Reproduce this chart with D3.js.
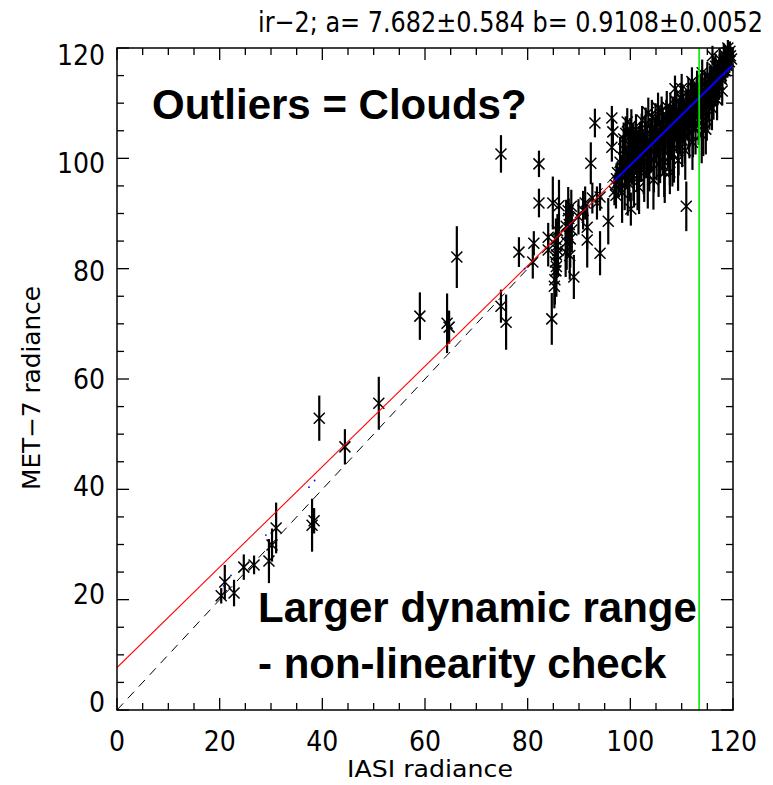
<!DOCTYPE html>
<html><head><meta charset="utf-8">
<script src="https://cdn.jsdelivr.net/npm/d3@7"></script>
<style>body{margin:0;background:#fff}svg{display:block}</style>
</head><body>
<svg id="c" width="773" height="785"></svg>
<script>
// ---------- data ----------
const titleText = "ir\u22122; a= 7.682\u00b10.584  b= 0.9108\u00b10.0052";
const xLabel = "IASI radiance";
const yLabel = "MET\u22127 radiance";
const xTicks = [0, 20, 40, 60, 80, 100, 120];
const yTicks = [0, 20, 40, 60, 80, 100, 120];
const fitA = 7.682, fitB = 0.9108;
const greenX = 113.4;
const noteTop = "Outliers = Clouds?";
const noteBottom1 = "Larger dynamic range";
const noteBottom2 = "- non-linearity check";
// [IASI, MET-7, error]
const lowPoints = [
  [20.3,20.7,1.4],[21.0,23.2,3.1],[22.8,21.2,2.4],[24.7,25.9,2.3],[26.7,26.3,1.7],
  [29.6,27.0,4.0],[30.2,29.9,3.0],[31.0,33.0,4.6],[38.0,33.5,4.8],[38.4,34.3,2.3],
  [39.4,52.9,4.1],[44.4,47.7,3.2],[51.0,55.6,4.8],[59.0,71.4,4.3],[66.2,82.1,5.6],
  [64.3,70.1,5.4],[64.7,69.4,3.0],[74.8,100.8,3.4],[74.8,73.2,3.0],[75.8,70.3,5.0]
];
const midPoints = [
  [78.3,83.0,2.7],[81.2,84.6,2.2],[81.0,81.2,3.0],[82.2,99.0,2.4],[82.2,91.9,2.6],
  [84.0,85.7,2.6],[84.0,83.4,3.0],[84.7,70.9,4.7],[84.9,91.9,4.8],[86.1,91.4,4.7],
  [85.3,78.0,4.5],[85.5,79.6,4.0],[85.4,81.2,5.0],[85.6,82.5,3.5],[85.7,84.1,4.2],
  [85.5,85.3,3.8],[85.8,86.9,3.0],[85.6,80.4,5.5],[85.9,83.3,4.6],[85.2,76.8,4.0],
  [87.4,83.0,4.5],[87.6,84.8,5.0],[87.8,86.2,4.0],[87.5,87.7,4.8],[88.0,89.1,3.6],
  [87.9,90.5,4.3],[88.3,85.4,5.2],[88.1,88.0,3.9],[88.5,91.3,3.0],[88.2,82.4,4.4],
  [88.6,87.0,4.0],[89.0,78.5,4.0],[89.9,89.4,3.2],[90.8,90.6,3.5],[91.2,91.9,3.0],
  [91.6,85.2,5.0],[91.6,87.5,4.0],[92.3,99.1,3.8],[92.6,92.8,2.8],[93.1,106.4,2.6],
  [93.5,91.9,3.0],[94.1,93.0,2.5],[94.1,82.8,4.0],[95.7,88.6,4.2],[96.4,107.3,2.2],
  [96.6,104.8,2.4],[96.4,102.0,2.6],[96.9,94.0,2.5],[97.1,95.2,2.2],[97.3,96.3,2.8],
  [97.5,97.4,2.0],[97.7,95.8,2.6],[97.2,93.3,2.4],[100.1,90.8,3.0],[110.9,91.3,4.5],
  [107.7,97.5,4.0],[108.7,112.6,2.4],[117.9,112.2,2.6],[114.7,105.3,4.6]
];
const clusterPoints = [
  [98.2,96.8,3.5],[98.5,100.2,4.0],[98.7,103.5,3.0],[98.9,95.1,4.5],[99.2,98.4,3.8],
  [99.4,106.6,2.5],[99.6,101.3,4.2],[99.8,97.2,5.0],[100.0,104.1,3.2],[100.3,99.6,4.4],
  [100.5,102.8,3.6],[100.7,96.3,5.2],[100.9,100.9,3.9],[101.1,105.2,2.8],[101.3,98.5,4.6],
  [101.5,101.9,3.3],[101.7,94.7,4.8],[101.9,103.6,3.0],[102.1,99.8,4.1],[102.3,106.9,2.6],
  [102.5,101.2,3.7],[102.7,97.4,5.3],[102.9,104.0,3.4],[103.1,100.6,4.2],[103.3,102.7,3.1],
  [103.5,108.3,2.7],[103.7,98.9,4.9],[103.9,103.8,3.5],[104.1,101.4,4.0],[104.3,105.6,3.0],
  [104.5,96.1,5.4],[104.7,102.9,3.8],[104.9,107.1,2.9],[105.1,100.5,4.5],[105.3,104.2,3.3],
  [105.5,99.0,6.0],[105.7,106.3,3.1],[105.9,103.0,4.0],[106.1,108.7,2.5],[106.3,101.6,4.7],
  [106.5,105.0,3.4],[106.7,97.5,5.6],[106.9,104.3,3.6],[107.1,109.4,2.8],[107.3,102.5,4.3],
  [107.5,106.6,3.2],[107.7,100.2,5.1],[107.9,105.5,3.7],[108.1,103.9,4.1],[108.3,108.2,3.0],
  [108.5,101.8,6.2],[108.7,106.7,3.4],[108.9,110.3,2.6],[109.1,104.8,3.9],[109.3,99.6,5.5],
  [109.5,107.4,3.2],[109.7,105.1,4.4],[109.9,111.0,2.7],[110.1,103.3,4.9],[110.3,108.0,3.5],
  [110.5,106.2,4.0],[110.7,101.4,5.3],[110.9,109.5,3.1],[111.1,107.0,3.8],[111.3,112.1,2.5],
  [111.5,104.6,4.6],[111.7,109.0,3.3],[111.9,106.8,4.2],[112.1,102.9,5.0],[112.3,110.7,2.9],
  [112.5,108.3,3.6],[112.7,105.4,4.7],[112.9,111.5,2.8],[113.1,109.2,3.4],[113.3,106.9,4.5],
  [113.5,112.6,2.6],[113.7,110.4,3.2],[113.9,104.3,5.2],[114.1,111.3,3.0],[114.3,108.7,3.9],
  [114.5,113.4,2.4],[114.7,110.9,3.3],[114.9,107.6,4.4],[115.1,112.8,2.7],[115.3,110.2,3.6],
  [115.5,114.5,2.3],[115.7,111.9,3.1],[115.9,109.1,4.0],[116.1,113.7,2.5],[116.3,116.2,2.0],
  [116.5,112.4,3.0],[116.7,114.8,2.4],[116.9,110.6,3.7],[117.1,115.6,2.2],[117.3,113.5,2.9],
  [117.5,117.1,2.0],[117.7,115.0,2.5],[117.9,116.0,3.0],[118.1,116.4,2.1],[118.3,117.8,1.8],
  [118.5,115.9,2.4],[118.7,118.3,1.8],[118.9,116.8,2.2],[119.1,119.0,1.6],[119.3,117.5,2.0],
  [119.5,118.6,1.7]
];
const clusterPoints2 = [
  [98.0,99.3,4.6],[98.4,93.8,5.5],[98.8,101.6,3.9],[99.1,104.5,3.1],[99.5,95.6,6.0],
  [99.9,100.4,4.8],[100.2,106.0,2.9],[100.6,98.1,5.8],[101.0,103.2,3.6],[101.4,96.9,6.3],
  [101.8,100.7,4.5],[102.2,104.8,3.3],[102.6,99.2,5.7],[103.0,106.2,3.0],[103.4,97.0,6.1],
  [103.8,101.7,4.4],[104.2,107.4,3.2],[104.6,99.7,5.9],[105.0,103.6,4.2],[105.4,109.1,2.8],
  [105.8,101.1,5.6],[106.2,105.9,3.7],[106.6,99.4,6.4],[107.0,107.3,3.3],[107.4,103.8,4.9],
  [107.8,108.9,3.0],[108.2,100.9,6.0],[108.6,105.6,4.1],[109.0,108.6,3.4],[109.4,102.6,5.7],
  [109.8,106.9,4.0],[110.2,110.5,2.9],[110.6,104.2,5.2],[111.0,108.8,3.6],[111.4,106.0,4.8],
  [111.8,111.2,2.8],[112.2,105.6,5.4],[112.6,109.8,3.5],[113.0,113.3,2.6],[113.4,108.0,4.6],
  [113.8,111.8,3.2],[114.2,106.0,5.6],[114.6,112.2,3.0],[115.0,115.1,2.4],[115.4,109.6,4.4],
  [115.8,113.9,2.9],[116.2,111.0,4.0],[116.6,116.7,2.2],[117.0,113.0,3.4],[117.4,118.0,2.0],
  [117.8,114.3,3.0],[118.2,118.9,1.9],[118.6,117.0,2.3],[119.0,120.0,1.5],[119.4,119.4,1.8],
  [119.7,118.0,1.9],[116.0,118.6,1.8],[114.0,115.5,2.4],[112.0,113.9,2.6],[110.0,112.6,2.7]
];
const blueRange = [97, 119.8];
const blueDots = [[20.8,22.5],[22.2,24.4],[29.0,31.7],[37.4,40.4],[38.5,41.6],[79.4,80.0],[88.0,87.8],[91.5,91.0]];

// ---------- drawing ----------
const svg = d3.select("#c");
const L = 117, R = 733, T = 48, B = 710;
const x = d3.scaleLinear().domain([0,120]).range([L,R]);
const y = d3.scaleLinear().domain([0,120]).range([B,T]);
const yLab = d3.scaleLinear().domain([0,120]).range([702,55]);
const FONT = "'DejaVu Sans Condensed','DejaVu Sans',sans-serif";

svg.append("defs").append("clipPath").attr("id","clip")
  .append("rect").attr("x",L).attr("y",T-8).attr("width",R-L+8).attr("height",B-T+8);
const plot = svg.append("g").attr("clip-path","url(#clip)");

// 1:1 dashed line
plot.append("line")
  .attr("x1",x(0)).attr("y1",y(0)).attr("x2",x(120)).attr("y2",y(120))
  .attr("stroke","#000").attr("stroke-width",1).attr("stroke-dasharray","9,7");

// points
const allPts = lowPoints.concat(midPoints, clusterPoints, clusterPoints2);
const pg = plot.append("g");
pg.selectAll("line.err").data(allPts).join("line").attr("class","err")
  .attr("x1",d=>x(d[0])).attr("x2",d=>x(d[0]))
  .attr("y1",d=>y(d[1]-d[2])).attr("y2",d=>y(d[1]+d[2]))
  .attr("stroke","#000").attr("stroke-width",2.2);
const s = 5.5;
pg.selectAll("path.mk").data(allPts).join("path").attr("class","mk")
  .attr("d",d=>{const px=x(d[0]),py=y(d[1]);
    return `M${px-s},${py-s}L${px+s},${py+s}M${px-s},${py+s}L${px+s},${py-s}`;})
  .attr("stroke","#000").attr("stroke-width",1.5).attr("fill","none");

// red fit line
plot.append("line")
  .attr("x1",x(0)).attr("y1",y(fitA)).attr("x2",x(120)).attr("y2",y(fitA+fitB*120))
  .attr("stroke","#ff0000").attr("stroke-width",1.1);
// blue
plot.append("line")
  .attr("x1",x(blueRange[0])).attr("y1",y(fitA+fitB*blueRange[0]))
  .attr("x2",x(blueRange[1])).attr("y2",y(fitA+fitB*blueRange[1]))
  .attr("stroke","#0000ff").attr("stroke-width",2);
plot.selectAll("circle.bd").data(blueDots).join("circle").attr("class","bd")
  .attr("cx",d=>x(d[0])).attr("cy",d=>y(d[1])).attr("r",0.9).attr("fill","#0000ff");
// green vertical
plot.append("line")
  .attr("x1",x(greenX)).attr("x2",x(greenX)).attr("y1",B).attr("y2",T)
  .attr("stroke","#00ee00").attr("stroke-width",1.6);

// frame
svg.append("rect").attr("x",L).attr("y",T).attr("width",R-L).attr("height",B-T)
  .attr("fill","none").attr("stroke","#000").attr("stroke-width",1.5);

// ticks
const minor = d3.range(0,121,5);
const tg = svg.append("g").attr("stroke","#000").attr("stroke-width",1.3);
minor.forEach(v=>{
  const len = v%20===0 ? 12 : 7;
  tg.append("line").attr("x1",x(v)).attr("x2",x(v)).attr("y1",B).attr("y2",B-len);
  tg.append("line").attr("x1",x(v)).attr("x2",x(v)).attr("y1",T).attr("y2",T+len);
  tg.append("line").attr("y1",y(v)).attr("y2",y(v)).attr("x1",L).attr("x2",L+len);
  tg.append("line").attr("y1",y(v)).attr("y2",y(v)).attr("x1",R).attr("x2",R-len);
});

// tick labels
svg.append("g").selectAll("text").data(xTicks).join("text")
  .attr("x",d=>x(d)).attr("y",751).attr("text-anchor","middle")
  .attr("font-family",FONT).attr("font-size",28).attr("fill","#000").text(d=>d);
svg.append("g").selectAll("text").data(yTicks).join("text")
  .attr("x",105).attr("y",d=>yLab(d)+10).attr("text-anchor","end")
  .attr("font-family",FONT).attr("font-size",28).attr("fill","#000").text(d=>d);

// fitted text helper: scales horizontally to a target width
function fitText(sel, target) {
  const w = sel.node().getComputedTextLength();
  return target / w;
}

// axis titles
const xl = svg.append("text").attr("text-anchor","middle")
  .attr("font-family",FONT).attr("font-size",23).text(xLabel);
xl.attr("transform",`translate(430,777) scale(${fitText(xl,166)},1)`);
const yl = svg.append("text").attr("text-anchor","middle")
  .attr("font-family",FONT).attr("font-size",24).text(yLabel);
yl.attr("transform",`translate(40,388) rotate(-90) scale(${fitText(yl,204)},1)`);

// title
const tt = svg.append("text").attr("font-family",FONT).attr("font-size",29).text(titleText);
tt.attr("transform",`translate(258,32) scale(${fitText(tt,505)},1)`);

// annotations
const NF = "'Liberation Sans',Arial,sans-serif";
svg.append("text").attr("x",152).attr("y",119).attr("font-family",NF).attr("font-weight","bold")
  .attr("font-size",42).text(noteTop);
svg.append("text").attr("x",258).attr("y",622).attr("font-family",NF).attr("font-weight","bold")
  .attr("font-size",42).text(noteBottom1);
svg.append("text").attr("x",258).attr("y",678).attr("font-family",NF).attr("font-weight","bold")
  .attr("font-size",42).text(noteBottom2);
</script>
</body></html>
